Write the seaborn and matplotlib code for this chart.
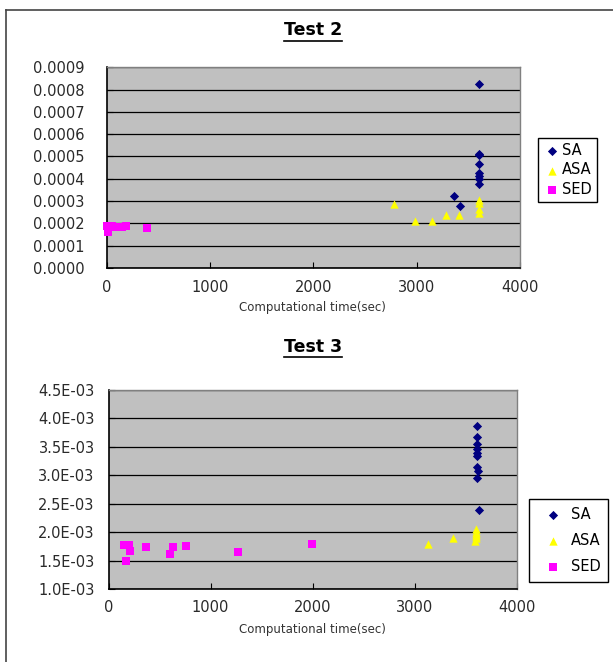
import numpy as np
import pandas as pd
import matplotlib
matplotlib.use("Agg")
import matplotlib.pyplot as plt
import seaborn as sns
from matplotlib.lines import Line2D
from matplotlib.ticker import FuncFormatter, MultipleLocator

# Test 2 data
t2_sa_time = [3600, 3600, 3600, 3600, 3600, 3600, 3600, 3600, 3358, 3419]
t2_sa_cost = [0.000827, 0.000509, 0.000505, 0.000466, 0.000428, 0.000412, 0.000400, 0.000375, 0.000324, 0.000279]
t2_asa_time = [2777, 2980, 3148, 3287, 3413, 3603, 3603, 3603, 3603]
t2_asa_cost = [0.000287, 0.000213, 0.000209, 0.000236, 0.000236, 0.000305, 0.000293, 0.000264, 0.000248]
t2_sed_time = [5, 15, 30, 50, 110, 150, 186, 386]
t2_sed_cost = [0.000188, 0.000163, 0.000182, 0.000190, 0.000185, 0.000184, 0.000189, 0.000178]

# Test 3 data
t3_sa_time = [3611, 3611, 3611, 3611, 3611, 3611, 3611, 3625, 3611, 3633]
t3_sa_cost = [0.00386, 0.00368, 0.00355, 0.00346, 0.00339, 0.00334, 0.00314, 0.00308, 0.00296, 0.00238]
t3_asa_time = [3127, 3379, 3598, 3598, 3598, 3598, 3598, 3590]
t3_asa_cost = [0.00179, 0.00190, 0.00205, 0.00200, 0.00197, 0.00193, 0.00189, 0.00185]
t3_sed_time = [147, 197, 213, 174, 372, 600, 636, 764, 1270, 1994]
t3_sed_cost = [0.00178, 0.00178, 0.00167, 0.00149, 0.00173, 0.00162, 0.00174, 0.00176, 0.00165, 0.00179]

methods = ["SA", "ASA", "SED"]
colors = {"SA": "#000080", "ASA": "#FFFF00", "SED": "#FF00FF"}
markers = {"SA": "D", "ASA": "^", "SED": "s"}
sizes = {"SA": 22, "ASA": 36, "SED": 40}

W, H = 613, 662
fig = plt.figure(figsize=(W / 100, H / 100), dpi=100)
plt.rcParams["font.family"] = ["DejaVu Sans"]

# cadre extérieur (partiellement visible)
fig.add_artist(Line2D([6 / W, 1], [1 - 10 / H, 1 - 10 / H], color="#444444", lw=1.2))
fig.add_artist(Line2D([6 / W, 6 / W], [0, 1 - 10 / H], color="#444444", lw=1.2))


def draw(ax, data, ylim, ystep, fmt, ypad, xpad):
    for m in methods:
        x, y = data[m]
        df = pd.DataFrame({"time": x, "cost": y})
        sns.scatterplot(data=df, x="time", y="cost", ax=ax, color=colors[m],
                        marker=markers[m], s=sizes[m], linewidth=0, label=m,
                        legend=False, zorder=3, clip_on=False)
    ax.set_facecolor("#C0C0C0")
    ax.set_xlim(0, 4000)
    ax.set_ylim(*ylim)
    ax.xaxis.set_major_locator(MultipleLocator(1000))
    ax.yaxis.set_major_locator(MultipleLocator(ystep))
    ax.yaxis.set_major_formatter(FuncFormatter(fmt))
    ax.grid(axis="y", color="black", lw=0.9)
    ax.set_axisbelow(True)
    for s in ["top", "right"]:
        ax.spines[s].set_color("#808080")
        ax.spines[s].set_linewidth(1.0)
    for s in ["left", "bottom"]:
        ax.spines[s].set_color("black")
        ax.spines[s].set_linewidth(1.2)
    ax.tick_params(axis="y", direction="in", length=4, pad=ypad, labelsize=10.5)
    ax.tick_params(axis="x", direction="in", length=4, pad=xpad, labelsize=10.5)
    for lab in ax.get_xticklabels() + ax.get_yticklabels():
        lab.set_color("#2a2a2a")
    ax.set_xlabel("")
    ax.set_ylabel("")


ax1 = fig.add_axes([106.8 / W, 1 - 268 / H, (520 - 106.8) / W, (268 - 67.3) / H])
draw(ax1, {"SA": (t2_sa_time, t2_sa_cost), "ASA": (t2_asa_time, t2_asa_cost),
           "SED": (t2_sed_time, t2_sed_cost)},
     (0, 0.0009), 0.0001, lambda v, p: f"{v:.4f}", 16, 9)

ax2 = fig.add_axes([108.5 / W, 1 - 589 / H, (516.7 - 108.5) / W, (589 - 389.9) / H])
draw(ax2, {"SA": (t3_sa_time, t3_sa_cost), "ASA": (t3_asa_time, t3_asa_cost),
           "SED": (t3_sed_time, t3_sed_cost)},
     (0.001, 0.0045), 0.0005, lambda v, p: f"{v:.1E}", 10, 8)

# légendes
ax1.legend(loc="upper left", bbox_to_anchor=(538 / W, 1 - 138 / H), bbox_transform=fig.transFigure,
           fancybox=False, edgecolor="black", framealpha=1, fontsize=10.5, handletextpad=0.1,
           handlelength=1.2, labelspacing=0.3, borderpad=0.35, borderaxespad=0)
ax2.legend(loc="upper left", bbox_to_anchor=(529 / W, 1 - 499 / H), bbox_transform=fig.transFigure,
           fancybox=False, edgecolor="black", framealpha=1, fontsize=10.5, handletextpad=0.1,
           handlelength=2.2, labelspacing=0.75, borderpad=0.55, borderaxespad=0)

# titres et axes x
for yy in [307, 629]:
    fig.text(312 / W, 1 - yy / H, "Computational time(sec)", ha="center", va="center",
             fontsize=8.5, color="#333333")

titles = []
for yy, t in [(30, "Test 2"), (346.7, "Test 3")]:
    titles.append(fig.text(313 / W, 1 - yy / H, t, ha="center", va="center",
                           fontsize=12.5, fontweight="bold", color="black"))

fig.canvas.draw()
r = fig.canvas.get_renderer()
for t in titles:
    bb = t.get_window_extent(r).transformed(fig.transFigure.inverted())
    fig.add_artist(Line2D([bb.x0, bb.x1], [bb.y0 - 1.5 / H, bb.y0 - 1.5 / H], color="black", lw=1.2))

fig.savefig("out.png", dpi=100)
